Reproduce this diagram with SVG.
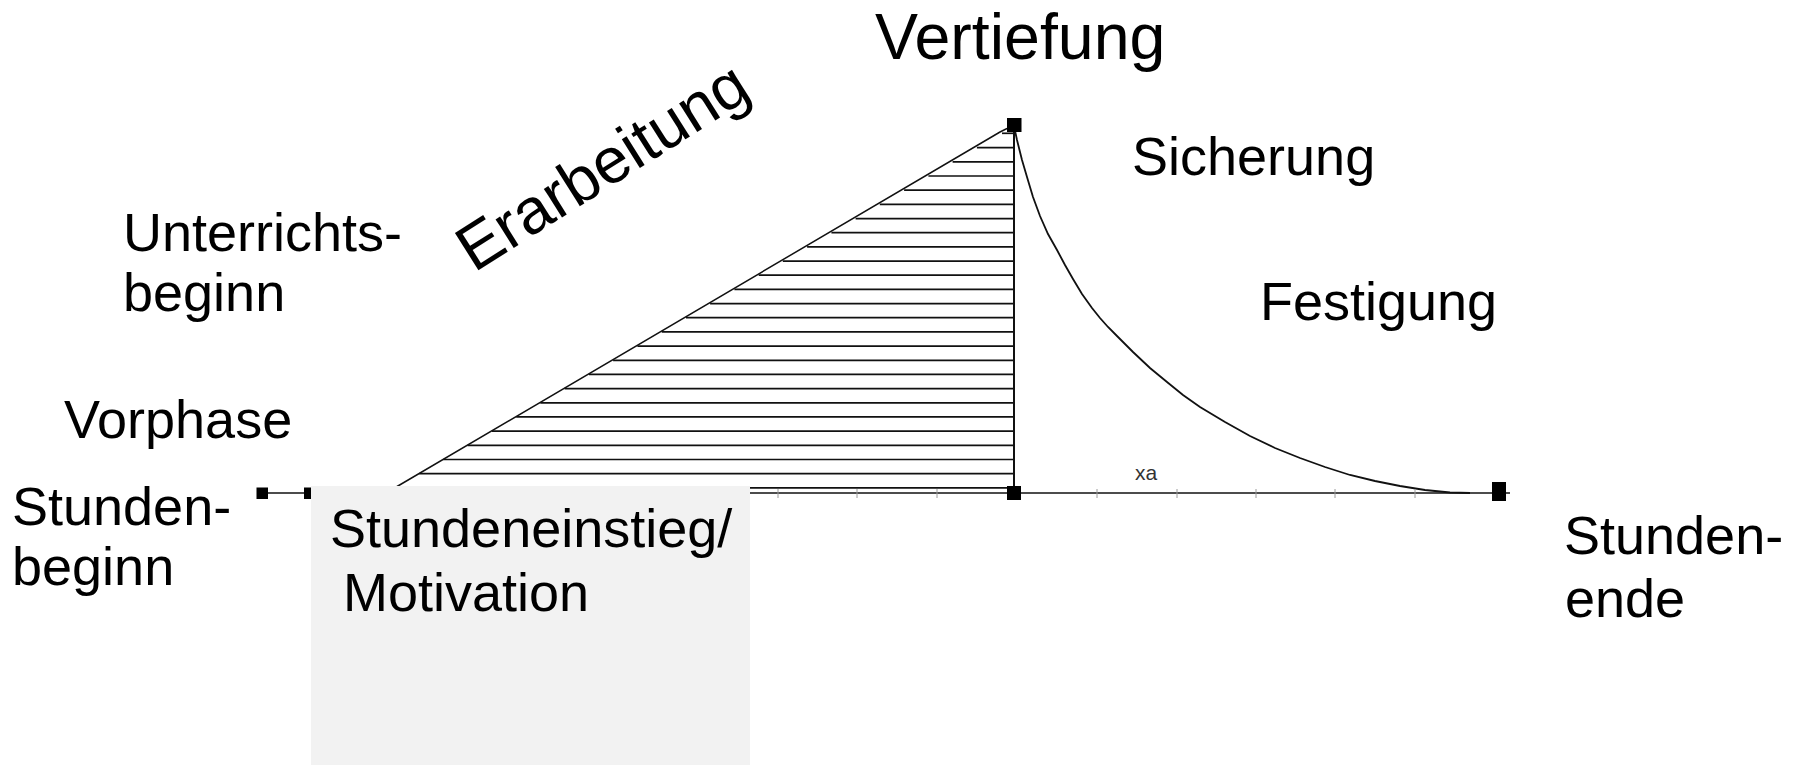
<svg xmlns="http://www.w3.org/2000/svg" width="1798" height="765" viewBox="0 0 1798 765">
<style>
text{font-family:"Liberation Sans",Arial,sans-serif;fill:#000}
.lbl{font-size:54px}
.hatch line{stroke:#111;stroke-width:1.7}
.tick line{stroke:#9a9a9a;stroke-width:1}
.ln{stroke:#111;fill:none}
.sq{fill:#000}
</style>
<rect width="1798" height="765" fill="#fff"/>
<g id="connectors">
<g class="hatch">
<line x1="1002" y1="133.3" x2="1014" y2="133.3"/>
<line x1="976.9" y1="147.7" x2="1014" y2="147.7"/>
<line x1="952.6" y1="161.9" x2="1014" y2="161.9"/>
<line x1="928.4" y1="176" x2="1014" y2="176"/>
<line x1="904.1" y1="190.2" x2="1014" y2="190.2"/>
<line x1="879.8" y1="204.4" x2="1014" y2="204.4"/>
<line x1="855.6" y1="218.6" x2="1014" y2="218.6"/>
<line x1="831.4" y1="232.7" x2="1014" y2="232.7"/>
<line x1="807.1" y1="246.9" x2="1014" y2="246.9"/>
<line x1="782.8" y1="261.1" x2="1014" y2="261.1"/>
<line x1="758.7" y1="275.2" x2="1014" y2="275.2"/>
<line x1="734.4" y1="289.4" x2="1014" y2="289.4"/>
<line x1="710.1" y1="303.6" x2="1014" y2="303.6"/>
<line x1="686" y1="317.7" x2="1014" y2="317.7"/>
<line x1="661.7" y1="331.9" x2="1014" y2="331.9"/>
<line x1="637.4" y1="346.1" x2="1014" y2="346.1"/>
<line x1="613.1" y1="360.3" x2="1014" y2="360.3"/>
<line x1="588.9" y1="374.4" x2="1014" y2="374.4"/>
<line x1="564.6" y1="388.6" x2="1014" y2="388.6"/>
<line x1="540.3" y1="402.8" x2="1014" y2="402.8"/>
<line x1="516.2" y1="416.9" x2="1014" y2="416.9"/>
<line x1="491.9" y1="431.1" x2="1014" y2="431.1"/>
<line x1="467.6" y1="445.3" x2="1014" y2="445.3"/>
<line x1="443.3" y1="459.5" x2="1014" y2="459.5"/>
<line x1="419.2" y1="473.6" x2="1014" y2="473.6"/>
<line x1="394.9" y1="487.8" x2="1014" y2="487.8"/>
</g>
<polyline class="ln" stroke-width="1.5" stroke="#333" points="386,493 1000,132 1006,129 1014,126"/>
<line class="ln" x1="1014" y1="126" x2="1014" y2="493" stroke-width="2"/>
<line class="ln" x1="262" y1="493" x2="1510" y2="493" stroke-width="1.6"/>
<polyline class="ln" stroke-width="1.8" stroke="#222" points="1014,126 1017,140 1022,160 1027,177 1033,197 1040,216 1048,234 1057,250 1065,265 1073,279 1082,294 1092,308 1100,318 1108,327 1117,336 1125,344 1133,352 1150,368 1167,382 1183,395 1200,407 1225,422 1250,436 1275,448 1300,458 1325,467 1350,475 1375,481 1400,486 1425,490 1450,492.5 1470,493"/>
<g class="tick">
<line x1="778" y1="489" x2="778" y2="498"/>
<line x1="857" y1="489" x2="857" y2="498"/>
<line x1="937" y1="489" x2="937" y2="498"/>
<line x1="1097" y1="489" x2="1097" y2="498"/>
<line x1="1177" y1="489" x2="1177" y2="498"/>
<line x1="1256" y1="489" x2="1256" y2="498"/>
<line x1="1335" y1="489" x2="1335" y2="498"/>
<line x1="1415" y1="489" x2="1415" y2="498"/>
</g>
<rect class="sq" x="1007" y="118" width="14.5" height="14"/>
<rect class="sq" x="1007" y="486" width="14" height="14"/>
<rect class="sq" x="256.5" y="487.5" width="11.5" height="11.5"/>
<rect class="sq" x="304" y="487.5" width="7" height="11.5"/>
<rect class="sq" x="1492" y="482" width="14" height="19"/>
</g>
<g id="motivation-box">
<rect x="311" y="486" width="439" height="279" fill="#f2f2f2"/>
<text class="lbl" x="330" y="547">Stundeneinstieg/</text>
<text class="lbl" x="343" y="611">Motivation</text>
</g>
<g id="vertiefung"><text x="875" y="59" font-size="64.5">Vertiefung</text></g>
<g id="erarbeitung"><text x="474" y="273" font-size="64" transform="rotate(-32.3 474 273)">Erarbeitung</text></g>
<g id="sicherung"><text class="lbl" x="1132" y="175">Sicherung</text></g>
<g id="festigung"><text class="lbl" x="1260" y="320">Festigung</text></g>
<g id="unterrichtsbeginn"><text class="lbl" x="123" y="251">Unterrichts-</text><text class="lbl" x="123" y="311">beginn</text></g>
<g id="vorphase"><text class="lbl" x="64" y="438">Vorphase</text></g>
<g id="stundenbeginn"><text class="lbl" x="12" y="525">Stunden-</text><text class="lbl" x="12" y="585">beginn</text></g>
<g id="stundenende"><text class="lbl" x="1564" y="554">Stunden-</text><text class="lbl" x="1565" y="617">ende</text></g>
<g id="xa"><text x="1135" y="480" font-size="21" style="fill:#333">xa</text></g>
</svg>
